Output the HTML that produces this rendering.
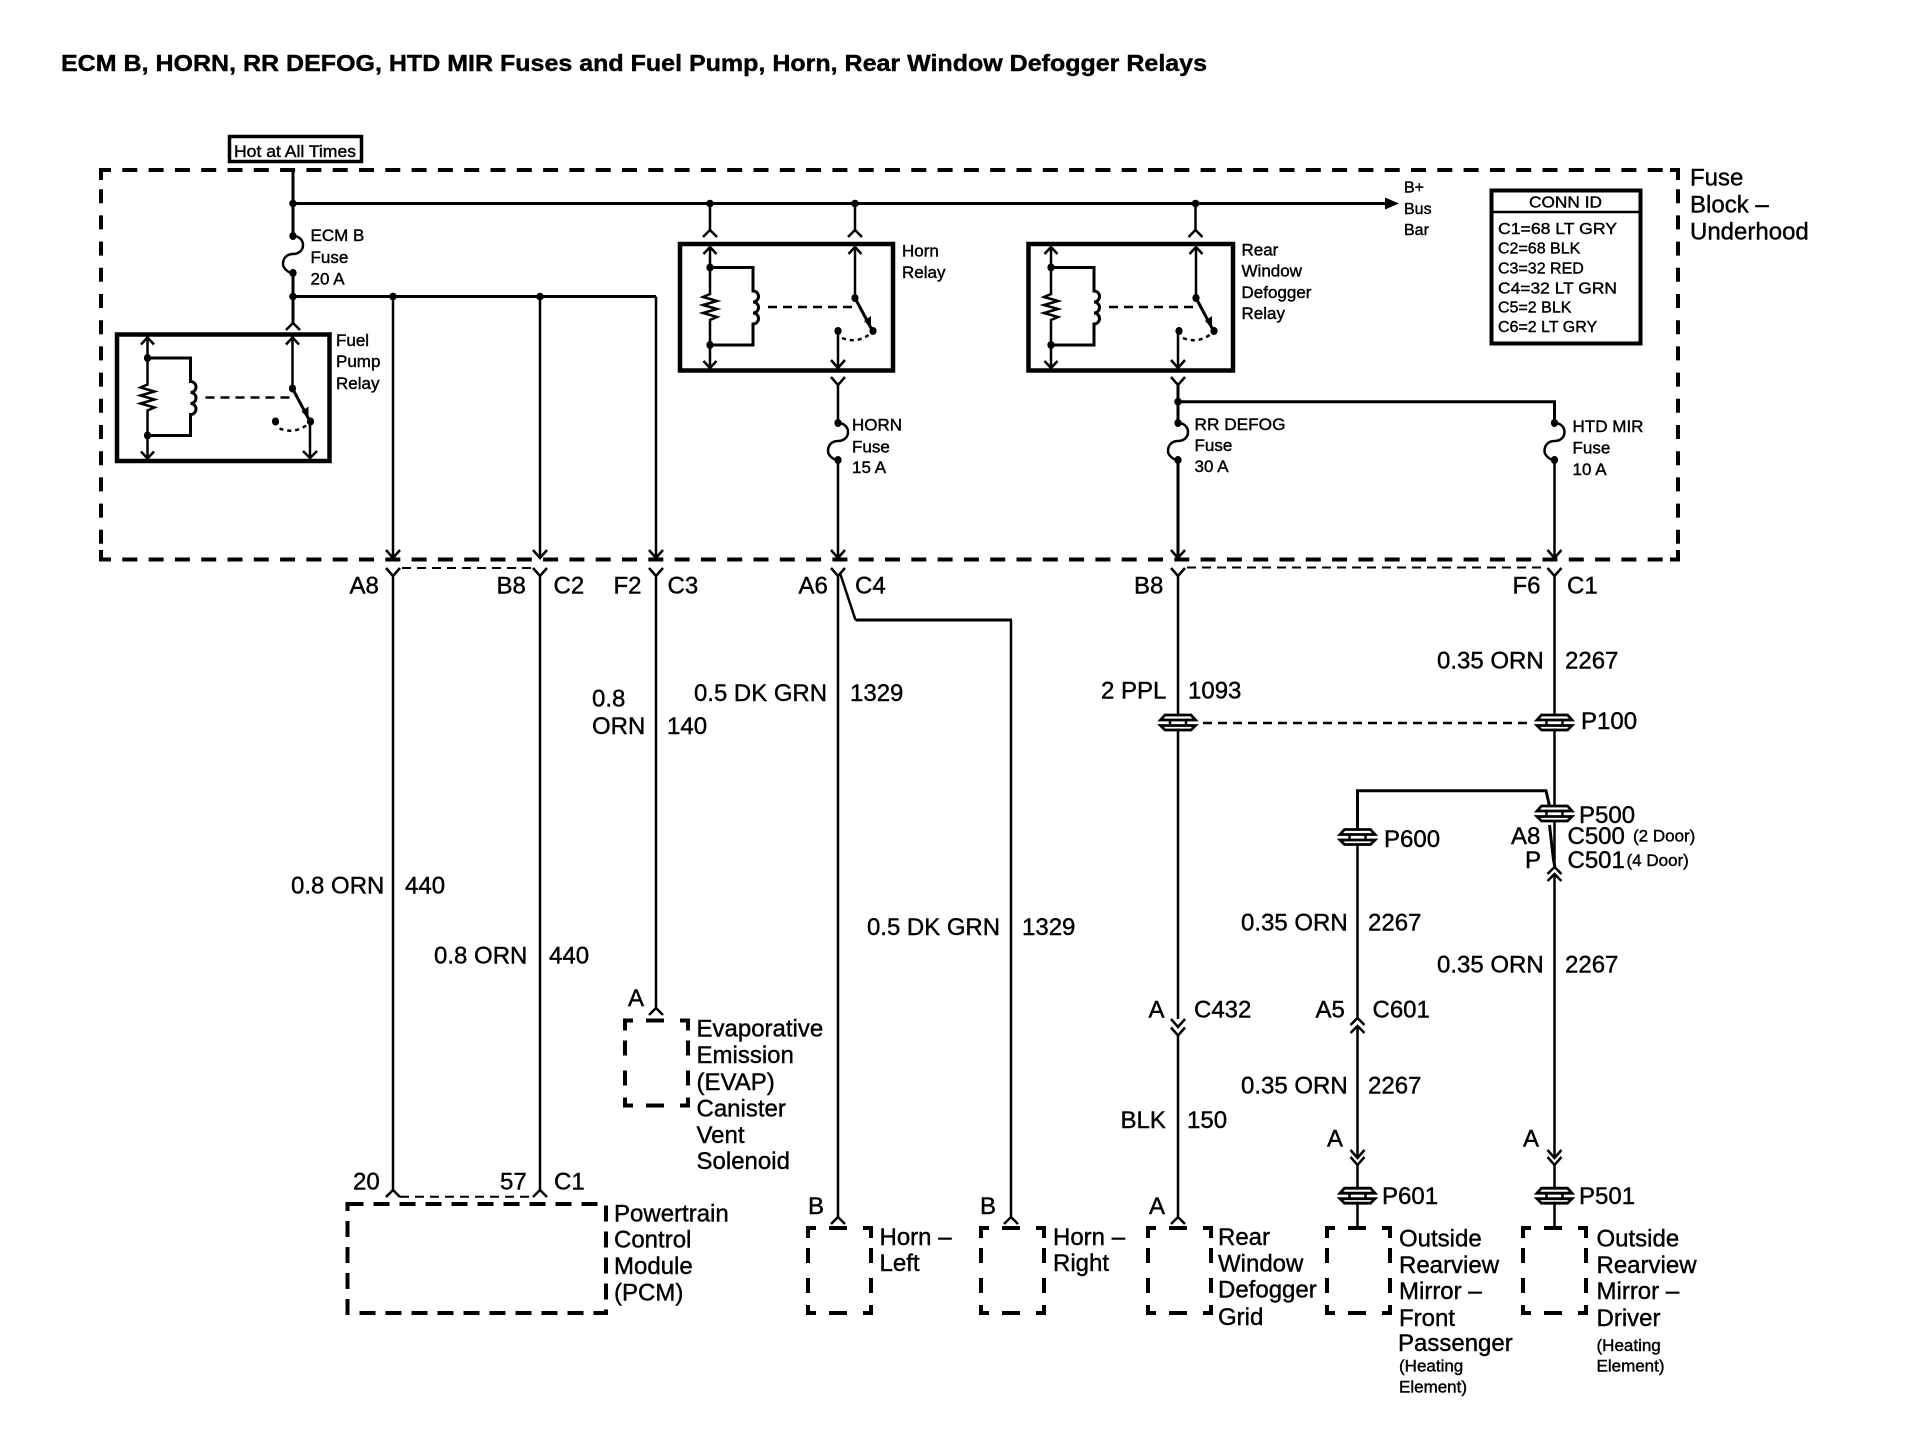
<!DOCTYPE html>
<html><head><meta charset="utf-8"><style>
html,body{margin:0;padding:0;background:#fff}
svg{display:block}
text{font-family:"Liberation Sans",Arial,sans-serif;fill:#000;stroke:#000;stroke-width:.4}
.t{font-size:24px}.s{font-size:17px}.m{font-size:16px}
.w{fill:none;stroke:#000;stroke-width:2.5}
.h{fill:none;stroke:#000;stroke-width:3}
.b{fill:none;stroke:#000;stroke-width:4.5}
.f{fill:none;stroke:#000;stroke-width:4}
</style></head><body>
<svg width="1906" height="1440" viewBox="0 0 1906 1440" xmlns="http://www.w3.org/2000/svg">
<defs>
<path id="v" class="w" d="M-7-8L0 0L7-8"/>
<path id="y" class="w" d="M-7 0L0 8L7 0"/>
<path id="n" class="w" d="M-7 7L0 0L7 7"/>
<g id="fuse"><path class="w" d="M0 0C6 0 10 4 10 9C10 15 5 18 0 18C-6 18-10 22-10 28C-10 32-5 37 0 37"/><ellipse cx="0" cy="0" rx="3.6" ry="4"/><ellipse cx="0" cy="37" rx="3.6" ry="4"/></g>
<g id="splice">
<rect x="-16" y="-6" width="32" height="12" fill="#fff"/>
<path class="h" d="M-13-7.500H13L17.500-2.500H-17.500ZM-17.500 3H17.500L13 7.500H-13Z" style="stroke-width:2.800"/>
<path class="w" d="M-8-2V3M8-2V3"/>
</g>
<g id="left">
<path class="w" d="M0 248V294L-7 297L7 301L-7 305L7 309L-7 313L7 317L0 320V367"/>
<path class="w" d="M-6.500 254L0 247L6.500 254M-6.500 361L0 368L6.500 361"/>
<path class="h" d="M0 267.500H43V291a5.500 5.500 0 0 1 0 11a5.500 5.500 0 0 1 0 11a5.500 5.500 0 0 1 0 11V345H0"/>
<ellipse cx="0" cy="267.500" rx="3.6" ry="4"/><ellipse cx="0" cy="345" rx="3.6" ry="4"/>
<path class="w" d="M58 307H143" stroke-dasharray="9 6"/>
<path class="w" d="M145 248V298"/><path class="w" d="M138.500 254L145 247L151.500 254"/>
<ellipse cx="145" cy="298" rx="3.6" ry="4"/><ellipse cx="163" cy="331" rx="3.6" ry="4"/><ellipse cx="128" cy="331" rx="3.6" ry="4"/>
<path class="h" d="M145 298L161 328"/>
<path d="M154 321L161 328L161 316Z"/>
<path class="w" d="M132 338Q147 344 160 334" stroke-dasharray="4 4"/>
</g>
<path id="sb" class="f" d="M0 10V0H8M21 0H39M55 0H63V10M0 20V35M0 50V65M0 77V85H8M21 85H39M55 85H63V77M63 20V35M63 50V65"/>
</defs>
<rect width="1906" height="1440" fill="#fff"/>

<text x="61" y="71" font-size="23" textLength="1146" lengthAdjust="spacingAndGlyphs" style="font-weight:bold">ECM B, HORN, RR DEFOG, HTD MIR Fuses and Fuel Pump, Horn, Rear Window Defogger Relays</text>

<rect x="229.500" y="136.500" width="132" height="25" class="f" style="stroke-width:3.500"/>
<text class="s" x="234" y="157" textLength="122" lengthAdjust="spacingAndGlyphs">Hot at All Times</text>

<path class="f" d="M99 170H1680M99 559.500H1680" stroke-dasharray="15 11.300" stroke-dashoffset="3"/>
<path class="f" d="M101 170V560M1678 170V560" stroke-dasharray="14 12.200" stroke-dashoffset="7"/>
<path class="f" d="M101 180V170H109M101 550V559.500H109M1678 180V170H1670M1678 550V559.500H1670"/>

<path class="h" d="M293 170V236M293 273V324M293 203.500H1386M293 296.500H656"/>
<path d="M1385 197.500L1399 203.500L1385 209.500Z"/>
<circle cx="293" cy="203.500" r="3.800"/><circle cx="293" cy="296.500" r="3.800"/><circle cx="393" cy="296.500" r="3.800"/><circle cx="540" cy="296.500" r="3.800"/>
<circle cx="710" cy="203.500" r="3.800"/><circle cx="855" cy="203.500" r="3.800"/><circle cx="1195.500" cy="203.500" r="3.800"/>
<use href="#fuse" x="293" y="236"/>
<use href="#n" x="293" y="323"/>

<path class="w" d="M393 296.500V557M540 296.500V557M656 296.500V557"/>
<use href="#v" x="393" y="558"/><use href="#v" x="540" y="558"/><use href="#v" x="656" y="558"/>

<!-- Fuel pump relay -->
<rect class="b" x="117" y="334.500" width="212.500" height="126.500"/>
<g transform="translate(147.500 90.500)"><use href="#left"/></g>
<path class="w" d="M310 422V458"/><path class="w" d="M303 451L310 458L317 451"/>

<text class="s" x="336" y="346">Fuel</text><text class="s" x="336" y="367">Pump</text><text class="s" x="336" y="389">Relay</text>
<text class="s" x="310.500" y="241">ECM B</text><text class="s" x="310.500" y="263">Fuse</text><text class="s" x="310.500" y="284.500">20 A</text>

<!-- Horn relay -->
<path class="w" d="M710 203.500V230M855 203.500V230M1195.500 203.500V230"/>
<use href="#n" x="710" y="230"/><use href="#n" x="855" y="230"/><use href="#n" x="1195.500" y="230"/>
<rect class="b" x="680" y="244" width="213" height="126.500"/>
<use href="#left" x="710"/>
<path class="w" d="M838 331V367"/><use href="#v" x="838" y="368"/>
<text class="s" x="902" y="256.500">Horn</text><text class="s" x="902" y="278">Relay</text>
<use href="#y" x="838" y="377"/>
<path class="w" d="M838 384V423M838 460V557"/>
<use href="#fuse" x="838" y="423"/>
<use href="#v" x="838" y="558"/>
<text class="s" x="852" y="430.500">HORN</text><text class="s" x="852" y="452.500">Fuse</text><text class="s" x="852" y="473">15 A</text>

<!-- Rear defog relay -->
<rect class="b" x="1028.500" y="244" width="204.500" height="126.500"/>
<use href="#left" x="1051"/>
<path class="w" d="M1178 331V367"/><use href="#v" x="1178" y="368"/>
<text class="s" x="1241.500" y="255.700">Rear</text><text class="s" x="1241.500" y="276.700">Window</text><text class="s" x="1241.500" y="298">Defogger</text><text class="s" x="1241.500" y="319">Relay</text>
<use href="#y" x="1178" y="377"/>
<path class="h" d="M1178 384V423M1178 460V557M1178 401.700H1554.500V423"/>
<circle cx="1178" cy="401.700" r="3.800"/>
<use href="#fuse" x="1178" y="423"/>
<use href="#fuse" x="1554.500" y="423"/>
<path class="w" d="M1554.500 460V557"/>
<use href="#v" x="1178" y="558"/><use href="#v" x="1554.500" y="558"/>
<text class="s" x="1194.500" y="430" textLength="91" lengthAdjust="spacingAndGlyphs">RR DEFOG</text><text class="s" x="1194.500" y="451">Fuse</text><text class="s" x="1194.500" y="472">30 A</text>
<text class="s" x="1572.500" y="432" textLength="71" lengthAdjust="spacingAndGlyphs">HTD MIR</text><text class="s" x="1572.500" y="453.500">Fuse</text><text class="s" x="1572.500" y="475">10 A</text>

<text class="m" x="1404" y="192.700">B+</text><text class="m" x="1404" y="214">Bus</text><text class="m" x="1404" y="235">Bar</text>

<!-- Conn ID -->
<rect class="f" x="1491.500" y="190.500" width="149" height="153"/>
<path class="w" d="M1491 212H1641"/>
<text class="m" x="1529" y="207.700" textLength="73" lengthAdjust="spacingAndGlyphs">CONN ID</text>
<text class="m" x="1498" y="234" textLength="119" lengthAdjust="spacingAndGlyphs">C1=68 LT GRY</text>
<text class="m" x="1498" y="253.700">C2=68 BLK</text>
<text class="m" x="1498" y="273.300">C3=32 RED</text>
<text class="m" x="1498" y="293.300" textLength="119" lengthAdjust="spacingAndGlyphs">C4=32 LT GRN</text>
<text class="m" x="1498" y="312.700">C5=2 BLK</text>
<text class="m" x="1498" y="332">C6=2 LT GRY</text>

<text class="t" x="1690" y="185.700">Fuse</text><text class="t" x="1690" y="212.300">Block –</text><text class="t" x="1690" y="239.300">Underhood</text>

<!-- Below frame connectors -->
<use href="#y" x="393" y="568"/><use href="#y" x="540" y="568"/><use href="#y" x="656" y="568"/><use href="#y" x="838" y="568"/><use href="#y" x="1178" y="568"/><use href="#y" x="1554.500" y="568"/>
<path style="fill:none;stroke:#000;stroke-width:2" stroke-dasharray="9 6" d="M402 568H532M1187 567.500H1546"/>

<text class="t" x="349.500" y="593.500">A8</text><text class="t" x="496.500" y="593.500">B8</text><text class="t" x="553.500" y="593.500">C2</text><text class="t" x="613.500" y="593.500">F2</text><text class="t" x="667.500" y="593.500">C3</text><text class="t" x="798.500" y="593.500">A6</text><text class="t" x="855" y="593.500">C4</text><text class="t" x="1134" y="593.500">B8</text><text class="t" x="1512.500" y="593.500">F6</text><text class="t" x="1567" y="593.500">C1</text>

<path class="w" d="M393 575V1190M540 575V1190M656 575V1008M838 575V1217M1178 575V1019M1554.500 575V806"/>
<path class="w" d="M840 573L855.500 620M1011 620V1217"/><path class="h" d="M855.500 620H1012"/>

<text class="t" x="291" y="893.500">0.8 ORN</text><text class="t" x="405" y="893.500">440</text>
<text class="t" x="434" y="963.500">0.8 ORN</text><text class="t" x="549" y="963.500">440</text>
<text class="t" x="592" y="706.500">0.8</text><text class="t" x="592" y="734">ORN</text><text class="t" x="667" y="734">140</text>
<text class="t" x="694" y="701" textLength="133" lengthAdjust="spacingAndGlyphs">0.5 DK GRN</text><text class="t" x="850" y="701">1329</text>
<text class="t" x="867" y="935" textLength="133" lengthAdjust="spacingAndGlyphs">0.5 DK GRN</text><text class="t" x="1022" y="935">1329</text>

<text class="t" x="1437" y="668.500">0.35 ORN</text><text class="t" x="1565" y="668.500">2267</text>
<text class="t" x="1101" y="698.500">2 PPL</text><text class="t" x="1188" y="698.500">1093</text>

<use href="#splice" x="1178" y="722.500"/><use href="#splice" x="1554.500" y="722.500"/>
<path class="w" d="M1203 723H1530" stroke-dasharray="9 6"/>
<text class="t" x="1581" y="729">P100</text>

<path class="h" d="M1357.500 830V790.700H1546L1549.500 806"/>
<use href="#splice" x="1554.500" y="813.500"/>
<text class="t" x="1579" y="823">P500</text>
<use href="#splice" x="1357.500" y="837"/>
<text class="t" x="1384" y="847">P600</text>
<path class="h" d="M1549.500 825L1553.500 860L1555 867"/><path class="w" d="M1554.500 822V867"/>
<use href="#n" x="1554.500" y="867"/><use href="#n" x="1554.500" y="874"/>
<path class="w" d="M1554.500 875V1158M1357.500 845V1018M1357.500 1026V1158"/>
<use href="#n" x="1357.500" y="1018"/><use href="#n" x="1357.500" y="1026"/>
<use href="#v" x="1178" y="1027"/><use href="#y" x="1178" y="1027.500"/>
<path class="w" d="M1178 1035V1216"/>

<text class="t" x="1511" y="844">A8</text><text class="t" x="1525" y="868">P</text>
<text class="t" x="1567.500" y="844">C500</text><text class="t" x="1567.500" y="868">C501</text>
<text class="s" x="1633" y="841.700">(2 Door)</text><text class="s" x="1626.500" y="866">(4 Door)</text>

<text class="t" x="1437" y="972.500">0.35 ORN</text><text class="t" x="1565" y="972.500">2267</text>
<text class="t" x="1241" y="930.500">0.35 ORN</text><text class="t" x="1368" y="930.500">2267</text>
<text class="t" x="1148.500" y="1017.500">A</text><text class="t" x="1194" y="1017.500">C432</text>
<text class="t" x="1315.500" y="1017.500">A5</text><text class="t" x="1372.500" y="1017.500">C601</text>
<text class="t" x="1241" y="1093.500">0.35 ORN</text><text class="t" x="1368" y="1093.500">2267</text>
<text class="t" x="1120.500" y="1128">BLK</text><text class="t" x="1187" y="1128">150</text>
<text class="t" x="1327" y="1146.500">A</text><text class="t" x="1523" y="1146.500">A</text>
<use href="#v" x="1357.500" y="1158"/><use href="#y" x="1357.500" y="1157"/>
<use href="#v" x="1554.500" y="1158"/><use href="#y" x="1554.500" y="1157"/>
<path class="w" d="M1357.500 1165V1228M1554.500 1165V1228"/>
<use href="#splice" x="1357.500" y="1195.700"/><use href="#splice" x="1554.500" y="1195.700"/>
<text class="t" x="1382" y="1204">P601</text><text class="t" x="1579" y="1204">P501</text>

<!-- Components -->
<use href="#n" x="393" y="1190"/><use href="#n" x="540" y="1190"/>
<path style="fill:none;stroke:#000;stroke-width:2" stroke-dasharray="9 6" d="M400 1196.700H534"/>
<text class="t" x="353" y="1189.500">20</text><text class="t" x="500" y="1189.500">57</text><text class="t" x="554" y="1189.500">C1</text>
<rect class="f" x="347.500" y="1204" width="258.500" height="109" stroke-dasharray="16 10"/>
<text class="t" x="614" y="1221.500">Powertrain</text><text class="t" x="614" y="1247.500">Control</text><text class="t" x="614" y="1274">Module</text><text class="t" x="614" y="1300.700">(PCM)</text>

<use href="#n" x="656" y="1008"/>
<text class="t" x="628" y="1006">A</text>
<use href="#sb" x="625" y="1020.500"/>
<text class="t" x="696.500" y="1036.700">Evaporative</text><text class="t" x="696.500" y="1063">Emission</text><text class="t" x="696.500" y="1090">(EVAP)</text><text class="t" x="696.500" y="1116.700">Canister</text><text class="t" x="696.500" y="1143">Vent</text><text class="t" x="696.500" y="1169">Solenoid</text>

<use href="#n" x="838" y="1217"/><use href="#n" x="1011" y="1217"/><use href="#n" x="1178" y="1217"/>
<text class="t" x="808" y="1214">B</text><text class="t" x="980" y="1214">B</text><text class="t" x="1149" y="1214">A</text>
<use href="#sb" x="808" y="1228"/><use href="#sb" x="981" y="1228"/><use href="#sb" x="1148" y="1228"/><use href="#sb" x="1327" y="1228"/><use href="#sb" x="1523" y="1228"/>
<text class="t" x="879.500" y="1245">Horn –</text><text class="t" x="879.500" y="1271">Left</text>
<text class="t" x="1053" y="1245">Horn –</text><text class="t" x="1053" y="1271">Right</text>
<text class="t" x="1218" y="1245">Rear</text><text class="t" x="1218" y="1271.700">Window</text><text class="t" x="1218" y="1297.700">Defogger</text><text class="t" x="1218" y="1325">Grid</text>
<text class="t" x="1399" y="1246.700">Outside</text><text class="t" x="1399" y="1273">Rearview</text><text class="t" x="1399" y="1299">Mirror –</text><text class="t" x="1399" y="1326">Front</text><text class="t" x="1398" y="1351">Passenger</text><text class="s" x="1399" y="1371.500">(Heating</text><text class="s" x="1399" y="1392.500">Element)</text>
<text class="t" x="1596.500" y="1246.700">Outside</text><text class="t" x="1596.500" y="1273">Rearview</text><text class="t" x="1596.500" y="1299">Mirror –</text><text class="t" x="1596.500" y="1326">Driver</text><text class="s" x="1596.500" y="1351">(Heating</text><text class="s" x="1596.500" y="1371.500">Element)</text>
</svg>
</body></html>
